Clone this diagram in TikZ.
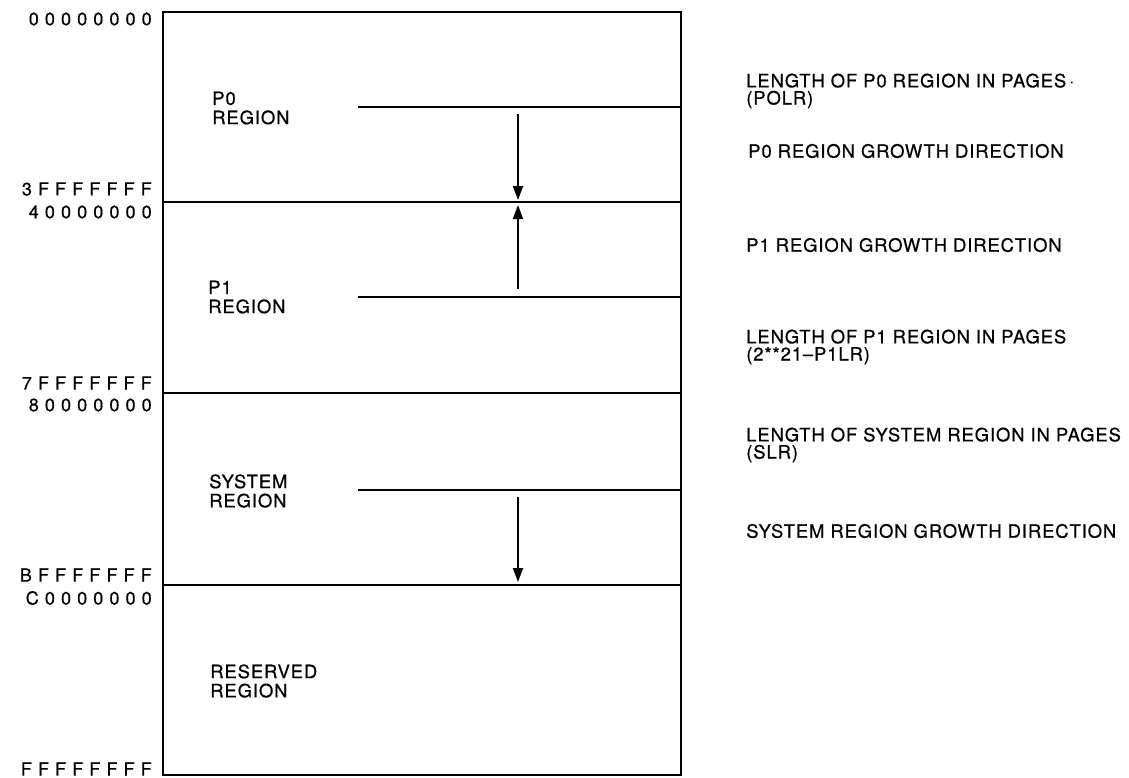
\documentclass[tikz,border=0pt]{standalone}
\usepackage{fontspec}
\setmainfont{TeX Gyre Heros}[LetterSpace=5,FakeBold=0.6]
\newfontfamily\hexfont{TeX Gyre Heros}[LetterSpace=34,FakeBold=0.6]
\usetikzlibrary{arrows.meta}

\begin{document}
\begin{tikzpicture}[x=0.5pt,y=-0.5pt,line width=1.3pt,
  hex/.style={anchor=east,inner sep=0pt,font=\hexfont\fontsize{9}{10}\selectfont},
  region/.style={anchor=west,align=left,inner sep=0pt,font=\fontsize{9.2}{9.6}\selectfont},
  note/.style={anchor=west,align=left,inner sep=0pt,font=\fontsize{9.2}{8.6}\selectfont},
  growarrow/.style={-{Triangle[length=7pt,width=5pt]},line width=1pt}]
  \useasboundingbox (0,0) rectangle (1129,777);

  % address space and its four regions
  \draw (163,12) rectangle (681,775);
  \draw (163,202) -- (681,202);
  \draw (163,393) -- (681,393);
  \draw (163,585) -- (681,585);

  % length registers
  \coordinate (p0lr) at (358,107);
  \coordinate (p1lr) at (358,297);
  \coordinate (slr)  at (358,490);
  \draw (p0lr) -- (681,107);
  \draw (p1lr) -- (681,297);
  \draw (slr) -- (681,490);

  % growth arrows
  \coordinate (p0top) at (518,114);
  \coordinate (p0tip) at (518,200);
  \coordinate (p1bot) at (518,289);
  \coordinate (p1tip) at (518,205);
  \coordinate (systop) at (518,497);
  \coordinate (systip) at (518,582);
  \draw[growarrow] (p0top) -- (p0tip);
  \draw[growarrow] (p1bot) -- (p1tip);
  \draw[growarrow] (systop) -- (systip);

  % addresses
  \node[hex] (a0) at (153,19)  {00000000};
  \node[hex] (a1) at (153,189) {3FFFFFFF};
  \node[hex] (a2) at (153,212) {40000000};
  \node[hex] (a3) at (153,383) {7FFFFFFF};
  \node[hex] (a4) at (153,405) {80000000};
  \node[hex] (a5) at (153,575) {BFFFFFFF};
  \node[hex] (a6) at (153,598) {C0000000};
  \node[hex] (a7) at (153,769) {FFFFFFFF};

  % region names
  \node[region] (r0) at (211,108) {P0\\REGION};
  \node[region] (r1) at (207,297) {P1\\REGION};
  \node[region] (r2) at (208,491) {SYSTEM\\REGION};
  \node[region] (r3) at (209,681) {RESERVED\\REGION};

  % notes on the right
  \node[note] (n0) at (745,91)  {LENGTH OF P0 REGION IN PAGES\,$\cdot$\\(POLR)};
  \node[note] (n1) at (747,151) {P0 REGION GROWTH DIRECTION};
  \node[note] (n2) at (745,245) {P1 REGION GROWTH DIRECTION};
  \node[note] (n3) at (745,347) {LENGTH OF P1 REGION IN PAGES\\(2**21--P1LR)};
  \node[note] (n4) at (745,445) {LENGTH OF SYSTEM REGION IN PAGES\\(SLR)};
  \node[note] (n5) at (745,531) {SYSTEM REGION GROWTH DIRECTION};
\end{tikzpicture}
\end{document}
